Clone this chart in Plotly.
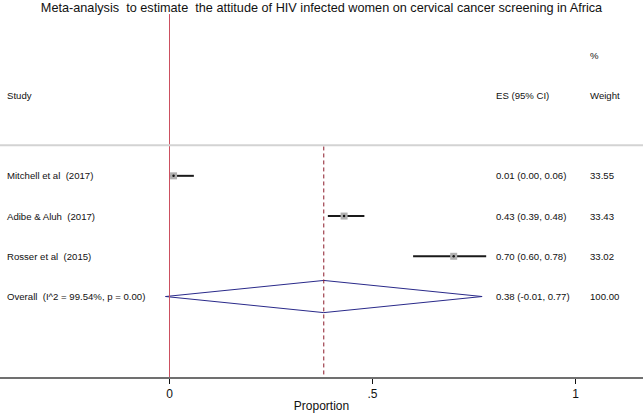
import plotly.graph_objects as go

title_text = "Meta-analysis  to estimate  the attitude of HIV infected women on cervical cancer screening in Africa"
studies = ["Mitchell et al  (2017)", "Adibe & Aluh  (2017)", "Rosser et al  (2015)"]
es = [0.01, 0.43, 0.70]
lo = [0.00, 0.39, 0.60]
hi = [0.06, 0.48, 0.78]
es_text = ["0.01 (0.00, 0.06)", "0.43 (0.39, 0.48)", "0.70 (0.60, 0.78)"]
weights = ["33.55", "33.43", "33.02"]
overall_label = "Overall  (I^2 = 99.54%, p = 0.00)"
overall_es, overall_lo, overall_hi = 0.38, -0.01, 0.77
overall_text = "0.38 (-0.01, 0.77)"
overall_weight = "100.00"
tick_vals = [0, 0.5, 1]
tick_text = ["0", ".5", "1"]

FONT = "Liberation Sans, Arial, sans-serif"
W, H = 643, 413
rows = [1, 2, 3]
overall_row = 4

fig = go.Figure()

# CI lines
for i in range(len(studies)):
    fig.add_trace(go.Scatter(x=[lo[i], hi[i]], y=[rows[i], rows[i]], mode="lines",
                             line=dict(color="#1a1a1a", width=2), hoverinfo="skip", showlegend=False))
# weight boxes
fig.add_trace(go.Scatter(x=es, y=rows, mode="markers",
                         marker=dict(symbol="square", size=7, color="#b0b0b0", line=dict(width=0)),
                         hoverinfo="skip", showlegend=False))
fig.add_trace(go.Scatter(x=es, y=rows, mode="markers",
                         marker=dict(symbol="circle", size=2.5, color="#111111"),
                         hoverinfo="skip", showlegend=False))
# diamond
fig.add_trace(go.Scatter(x=[overall_lo, overall_es, overall_hi, overall_es, overall_lo],
                         y=[overall_row, overall_row - 0.4, overall_row, overall_row + 0.4, overall_row],
                         mode="lines", line=dict(color="#2a2a8a", width=1), hoverinfo="skip", showlegend=False))

shapes = [
    dict(type="line", xref="x", yref="y", x0=0, x1=0, y0=-3.02, y1=6.0, line=dict(color="#cc5060", width=1)),
    dict(type="line", xref="x", yref="y", x0=overall_es, x1=overall_es, y0=0.27, y1=6.0,
         line=dict(color="#8b1a2a", width=1, dash="4px,3px")),
    dict(type="line", xref="paper", yref="y", x0=0, x1=1, y0=0.24, y1=0.24, line=dict(color="#d3d3d3", width=2)),
]

ann = []
def txt(xpx, y, s, anchor="left", size=9.6):
    ann.append(dict(x=xpx / W, xref="paper", y=y, yref="y", text=s, showarrow=False,
                    xanchor=anchor, yanchor="middle", font=dict(family=FONT, size=size, color="#111111")))

txt(5, -1, "Study")
txt(494, -1, "ES (95% CI)")
txt(588, -1, "Weight")
txt(588, -2, "%")
for i in range(len(studies)):
    txt(5, rows[i], studies[i])
    txt(494, rows[i], es_text[i])
    txt(588, rows[i], weights[i])
txt(5, overall_row, overall_label)
txt(494, overall_row, overall_text)
txt(588, overall_row, overall_weight)

x0px = 169.5
upx = 406.0
xmin = -x0px / upx
xmax = (W - x0px) / upx

fig.update_layout(
    width=W, height=H,
    margin=dict(l=0, r=0, t=0, b=36),
    paper_bgcolor="white", plot_bgcolor="white",
    title=dict(text=title_text, x=0.5, xanchor="center", y=1 - 8 / H, yanchor="middle",
               font=dict(family=FONT, size=12.7, color="#111111")),
    xaxis=dict(range=[xmin, xmax], showgrid=False, zeroline=False, showline=True,
               linecolor="#707070", linewidth=2, ticks="outside", ticklen=5, tickcolor="#111111",
               tickvals=tick_vals, ticktext=tick_text,
               tickfont=dict(family=FONT, size=12, color="#111111"),
               title=dict(text="Proportion", font=dict(family=FONT, size=12, color="#111111"), standoff=2)),
    yaxis=dict(range=[6.0, -3.37], visible=False, showgrid=False, zeroline=False),
    shapes=shapes, annotations=ann, showlegend=False,
)

fig.write_html("out.html", config={"displayModeBar": False},
               post_script="document.body.style.margin='0';")
